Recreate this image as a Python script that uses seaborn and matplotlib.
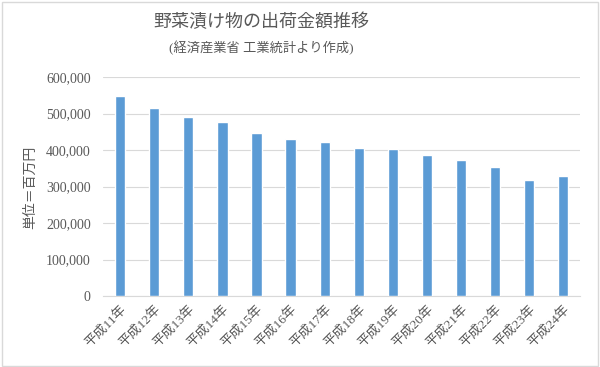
import numpy as np
import pandas as pd
import seaborn as sns
import matplotlib.pyplot as plt
from matplotlib.ticker import FuncFormatter
from matplotlib.patches import Rectangle

years = ['平成11年', '平成12年', '平成13年', '平成14年', '平成15年', '平成16年', '平成17年',
         '平成18年', '平成19年', '平成20年', '平成21年', '平成22年', '平成23年', '平成24年']
shipments = [547000, 514000, 491000, 476000, 445500, 431000, 422000,
             404600, 402000, 386000, 373600, 354500, 319000, 329000]
yticks = [0, 100000, 200000, 300000, 400000, 500000, 600000]

df = pd.DataFrame({'year': years, 'value': shipments})

sns.set_style("white")
plt.rcParams['font.family'] = ['Liberation Serif', 'Noto Sans CJK JP', 'DejaVu Sans']
grey = '#595959'

fig = plt.figure(figsize=(6, 3.67), dpi=100)
ax = fig.add_axes([0.172, 0.193, 0.795, 0.597])

sns.barplot(data=df, x='year', y='value', color='#5B9BD5', width=0.3,
            saturation=1, ax=ax, zorder=3)

ax.set_ylim(0, 600000)
ax.set_yticks(yticks)
ax.yaxis.set_major_formatter(FuncFormatter(lambda v, p: f'{int(v):,}'))
ax.grid(axis='y', color='#D9D9D9', linewidth=0.8, zorder=0)
for s in ['top', 'right', 'left']:
    ax.spines[s].set_visible(False)
ax.spines['bottom'].set_color('#D9D9D9')
ax.tick_params(axis='y', length=0, labelsize=10, colors=grey, pad=9)
ax.tick_params(axis='x', length=0, labelsize=9.5, colors=grey, pad=5)
plt.setp(ax.get_xticklabels(), rotation=45, ha='right', rotation_mode='anchor')
ax.set_xlabel('')
ax.set_ylabel('')

fig.text(0.05, 0.49, '単位＝百万円', rotation=90, ha='center', va='center',
         fontsize=10, color=grey, family=['Noto Sans CJK JP'])
fig.text(0.435, 0.94, '野菜漬け物の出荷金額推移', ha='center', va='center',
         fontsize=13, color=grey, family=['Noto Sans CJK JP'])
fig.text(0.435, 0.87, '(経済産業省 工業統計より作成)', ha='center', va='center',
         fontsize=9.5, color=grey)

fig.patches.append(Rectangle((0.003, 0.004), 0.994, 0.99, transform=fig.transFigure,
                             fill=False, edgecolor='#D9D9D9', linewidth=1))

plt.savefig('out.png', dpi=100)
